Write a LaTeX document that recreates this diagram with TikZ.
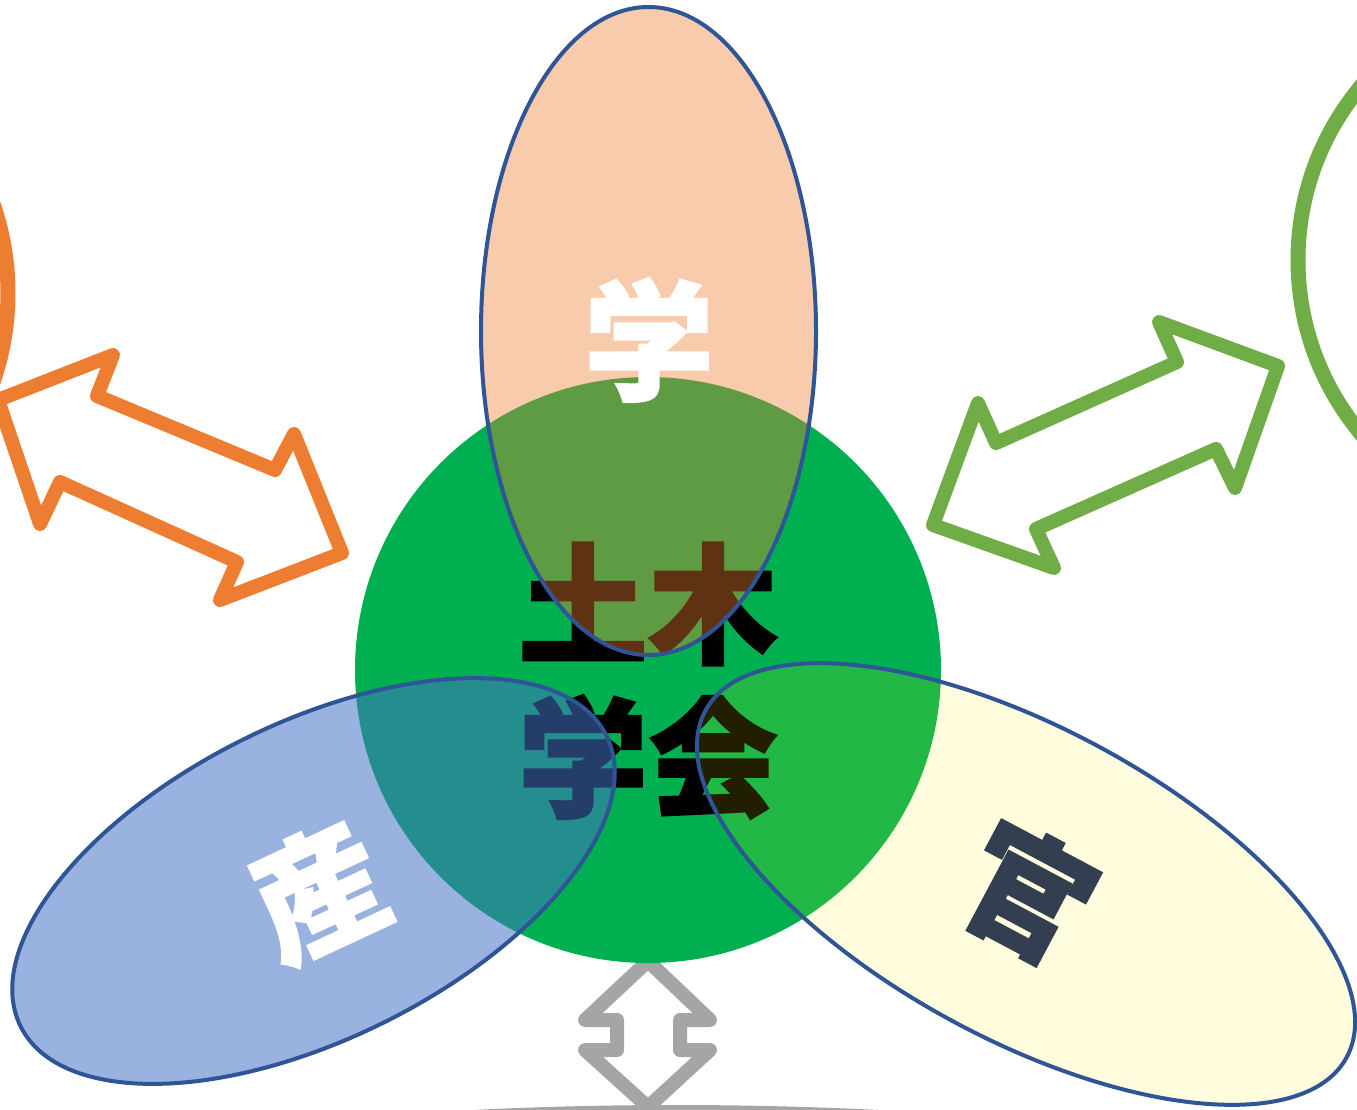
\documentclass[tikz,border=0pt]{standalone}
\usepackage{fontspec}
\newfontfamily\cjk{Noto Sans CJK JP}[BoldFeatures={FakeBold=1.5}]
\definecolor{cgreen}{HTML}{00B050}
\definecolor{corange}{HTML}{ED7D31}
\definecolor{cblue}{HTML}{4472C4}
\definecolor{cline}{HTML}{2F5597}
\definecolor{cgarrow}{HTML}{70AD47}
\definecolor{cgray}{HTML}{A5A5A5}
\definecolor{cdark}{HTML}{333F50}
\begin{document}
\begin{tikzpicture}[x=1pt,y=-1pt,
  outlinearrow/.style={line width=14pt, line join=round, line cap=round},
  sidering/.style={line width=15pt},
  petal/.style={draw=cline, line width=4pt},
  bigchar/.style={font=\cjk\bfseries\fontsize{130}{150}\selectfont, inner sep=0pt}]
\useasboundingbox (0,0) rectangle (1357,1109);
\clip (0,0) rectangle (1357,1109);
\fill[white] (0,0) rectangle (1357,1109);
% side rings
\draw[corange, sidering] (-263,293) circle (271);
\draw[cgarrow, sidering] (1569,260) circle (271);
% bottom gray shape
\fill[cgray] (676,5155) circle (4050);
% double arrows
\draw[cgray, outlinearrow] (648,961) -- (710,1020) -- (680,1020) -- (680,1050) -- (710,1050) -- (648,1107) -- (585,1050) -- (617,1050) -- (617,1020) -- (585,1020) -- cycle;
\draw[corange, outlinearrow] (-2,400) -- (113,355) -- (97,396) -- (275,470) -- (294,434) -- (342,553) -- (220,600) -- (237,562) -- (60,482) -- (40,524) -- cycle;
\draw[cgarrow, outlinearrow] (933,525) -- (978,403) -- (996,443) -- (1177,362) -- (1159,322) -- (1278,366) -- (1235,488) -- (1216,449) -- (1036,529) -- (1054,568) -- cycle;
% main circle
\fill[cgreen] (648,670) circle (293);
\node[bigchar] (t1) at (648,604) {土木};
\node[bigchar] (t2) at (648,757) {学会};
% petals
\filldraw[fill=corange, fill opacity=0.4, petal] (648.5,331) ellipse (167.5 and 324);
\filldraw[fill=cblue, fill opacity=0.54, petal, rotate around={26.4:(313.5,881)}] (313.5,881) ellipse (327 and 158);
\filldraw[fill=yellow, fill opacity=0.13, petal, rotate around={-28.4:(1026,884)}] (1026,884) ellipse (364.5 and 155.5);
% labels
\node[bigchar, white] (gaku) at (649,340) {学};
\node[bigchar, white, rotate=25] (san) at (318,892) {産};
\node[bigchar, cdark, rotate=-28] (kan) at (1027,893) {官};
\end{tikzpicture}
\end{document}
